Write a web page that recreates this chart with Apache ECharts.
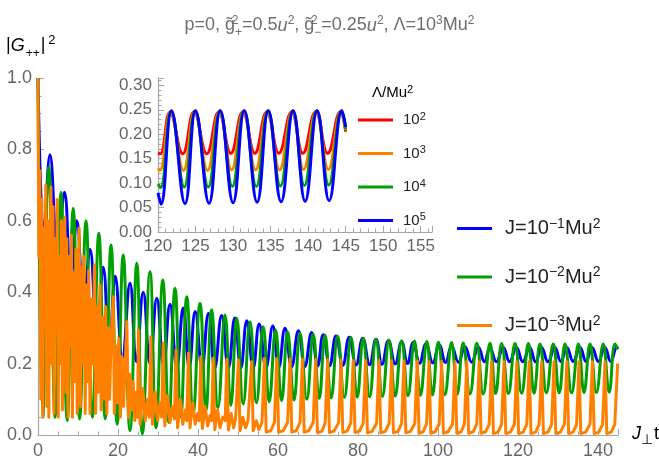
<!DOCTYPE html>
<html>
<head>
<meta charset="utf-8">
<script src="https://cdn.jsdelivr.net/npm/echarts@6/dist/echarts.min.js"></script>
<style>
  html, body { margin: 0; padding: 0; background: #fff; }
  #chart { width: 659px; height: 466px; }
</style>
</head>
<body>
<div id="chart"></div>
<script>
// |G++|^2 versus J_perp t for three couplings J (main panel)
const mainXTicks = [0, 20, 40, 60, 80, 100, 120, 140];
const mainYTicks = [0.0, 0.2, 0.4, 0.6, 0.8, 1.0];

// J = 10^-1 Mu^2 : alternating maxima / minima
const blueJ1 = [
  [0,1.0],[1.5,0.56],[3.0,0.785],[4.9,0.52],[6.6,0.68],[8.2,0.44],[9.7,0.60],[11.4,0.36],
  [13.0,0.52],[14.7,0.29],[16.3,0.47],[17.8,0.24],[19.3,0.445],[21.1,0.215],[23.0,0.425],
  [24.6,0.205],[26.3,0.40],[28.0,0.20],[29.7,0.383],[31.4,0.195],[33.0,0.366],[34.7,0.19],
  [36.3,0.356],[37.8,0.19],[39.3,0.346],[41.0,0.19],[42.6,0.34],[44.2,0.188],[45.9,0.335],
  [47.6,0.188],[49.2,0.328],[50.7,0.188],[52.2,0.32],[53.8,0.188],[55.3,0.311],[57.0,0.189],
  [58.7,0.305],[60.2,0.19],[61.75,0.299],[63.4,0.191],[65.1,0.292],[66.7,0.192],[68.4,0.287],
  [69.9,0.193],[71.3,0.281],[72.9,0.194],[74.5,0.277],[76.2,0.195],[77.8,0.274],[79.5,0.196],
  [81.2,0.271],[82.9,0.197],[84.5,0.268],[86.0,0.198],[87.6,0.264],[89.3,0.199],[90.9,0.261],
  [92.4,0.2],[93.8,0.259],[95.4,0.201],[97.0,0.255],[98.7,0.202],[100.3,0.252],[101.9,0.203],
  [103.4,0.249],[105.1,0.204],[106.75,0.247],[108.4,0.204],[110.1,0.246],[111.6,0.205],
  [113.0,0.244],[114.6,0.205],[116.3,0.245],[117.9,0.205],[119.6,0.245],[121.2,0.205],
  [122.9,0.245],[124.4,0.205],[125.9,0.245],[127.5,0.205],[129.2,0.245],[130.7,0.206],
  [132.2,0.245],[133.8,0.206],[135.5,0.245],[137.0,0.206],[138.5,0.245],[140.1,0.206],
  [141.7,0.245],[143.2,0.206],[144.7,0.245],[145,0.243]
];

// J = 10^-2 Mu^2
const greenJ2 = [
  [0,1.0],[1.2,0.05],[2.7,0.75],[4.3,0.05],[5.75,0.68],[7.3,0.04],[8.8,0.635],[10.4,0.045],
  [12.0,0.60],[13.6,0.05],[15.2,0.565],[16.8,0.045],[18.25,0.532],[19.8,0.03],[21.3,0.504],
  [23.0,0.012],[24.7,0.481],[26.1,0.003],[28.0,0.457],[29.5,0.02],[31.2,0.434],[32.7,0.035],
  [34.25,0.411],[35.7,0.05],[37.2,0.387],[38.8,0.062],[40.5,0.369],[42.0,0.07],[43.4,0.35],
  [45.0,0.077],[46.75,0.336],[48.2,0.083],[49.7,0.327],[51.3,0.087],[53.0,0.317],[54.6,0.09],
  [56.3,0.303],[57.8,0.093],[59.4,0.294],[60.9,0.096],[62.4,0.289],[64.0,0.098],[65.5,0.285],
  [67.2,0.1],[68.8,0.282],[70.3,0.102],[71.75,0.28],[73.3,0.104],[74.9,0.277],[76.6,0.105],
  [78.25,0.274],[79.8,0.106],[81.3,0.271],[82.9,0.107],[84.5,0.268],[86.1,0.108],[87.75,0.266],
  [89.3,0.109],[90.9,0.264],[92.5,0.11],[94.1,0.263],[95.6,0.111],[97.2,0.262],[98.6,0.112],
  [100.1,0.26],[101.7,0.113],[103.4,0.259],[104.8,0.114],[106.3,0.258],[108.0,0.115],
  [109.7,0.257],[111.3,0.115],[113.0,0.257],[114.4,0.116],[115.9,0.256],[117.6,0.116],
  [119.25,0.256],[120.9,0.117],[122.6,0.256],[124.0,0.117],[125.5,0.255],[127.1,0.118],
  [128.8,0.255],[130.3,0.118],[131.75,0.255],[133.4,0.118],[135.1,0.255],[136.5,0.119],
  [138.0,0.255],[139.6,0.119],[141.3,0.255],[142.8,0.12],[144.25,0.255],[145,0.24]
];

// J = 10^-3 Mu^2 : irregular start, then narrow resonance spikes
const orangeJ3 = [
  [0,1.0],[0.2,0.5],[0.45,0.74],[0.7,0.1],[0.95,0.66],[1.2,0.05],[1.45,0.58],[1.7,0.3],
  [1.95,0.7],[2.2,0.08],[2.45,0.6],[2.7,0.05],[2.95,0.5],[3.25,0.695],[3.5,0.2],[3.75,0.64],
  [4.0,0.06],[4.3,0.55],[4.55,0.3],[4.8,0.66],[5.05,0.05],[5.3,0.5],[5.6,0.2],[5.85,0.6],
  [6.1,0.07],[6.4,0.45],[6.7,0.61],[6.95,0.12],[7.2,0.55],[7.5,0.05],[7.8,0.5],[8.05,0.25],
  [8.35,0.56],[8.6,0.05],[8.9,0.45],[9.2,0.15],[9.5,0.52],[9.8,0.06],[10.05,0.4],[10.3,0.58],
  [10.6,0.08],[10.9,0.47],[11.2,0.2],[11.5,0.5],[11.8,0.06],[12.1,0.42],[12.4,0.15],[12.7,0.46],
  [13.0,0.06],[13.4,0.38],[13.8,0.2],[14.1,0.476],[14.4,0.06],[14.8,0.36],[15.1,0.12],
  [15.5,0.42],[15.8,0.07],[16.2,0.33],[16.5,0.1],[16.9,0.36],[17.2,0.06],[17.6,0.3],[17.9,0.1],
  [18.3,0.28],[18.8,0.387],[19.1,0.06],[19.5,0.25],[19.8,0.09],[20.2,0.27],[20.6,0.05],
  [21.0,0.22],[21.4,0.08],[21.8,0.2],[22.2,0.317],[22.6,0.05],[23.0,0.17],[23.4,0.07],
  [23.8,0.15],[24.2,0.04],[24.6,0.12],[24.9,0.05],
  [25.1,0.294],[25.5,0.03],[26.2,0.13],[26.8,0.04],[27.4,0.1],[27.8,0.05],
  [28.2,0.275],[28.6,0.03],[29.3,0.12],[29.9,0.04],[30.5,0.09],[30.9,0.05],
  [31.3,0.257],[31.7,0.025],[32.4,0.11],[33.0,0.035],[33.6,0.08],[34.1,0.045],
  [34.5,0.238],[34.9,0.02],[35.6,0.1],[36.2,0.03],[36.8,0.07],[37.2,0.04],
  [37.6,0.229],[38.0,0.02],[38.7,0.09],[39.3,0.03],[39.9,0.06],[40.3,0.04],
  [40.7,0.219],[41.1,0.018],[41.8,0.08],[42.4,0.025],[43.0,0.055],[43.4,0.04],
  [43.8,0.215],[44.2,0.015],[44.9,0.07],[45.5,0.02],[46.2,0.05],[46.8,0.04],
  [47.2,0.212],[47.6,0.014],[48.3,0.06],[48.9,0.02],[49.4,0.045],[49.7,0.04],
  [50.1,0.21],[50.5,0.012],[51.2,0.05],[51.9,0.02],[52.5,0.04],[52.9,0.04],
  [53.4,0.205],[53.8,0.012],[54.6,0.04],[55.2,0.015],[56.0,0.035],
  [56.6,0.215],[57.05,0.008],[58.2,0.012],[59.1,0.035],
  [59.7,0.214],[60.15,0.008],[61.3,0.012],[62.4,0.035],
  [63.0,0.213],[63.45,0.008],[64.6,0.012],[65.5,0.035],
  [66.1,0.212],[66.55,0.008],[67.7,0.012],[68.8,0.035],
  [69.4,0.211],[69.85,0.007],[71.0,0.011],[71.8,0.034],
  [72.4,0.21],[72.85,0.007],[74.0,0.011],[75.15,0.034],
  [75.75,0.21],[76.2,0.007],[77.3,0.011],[78.2,0.034],
  [78.8,0.209],[79.25,0.007],[80.4,0.011],[81.3,0.033],
  [81.9,0.209],[82.35,0.006],[83.5,0.01],[84.65,0.033],
  [85.25,0.208],[85.7,0.006],[86.8,0.01],[87.8,0.033],
  [88.4,0.208],[88.85,0.006],[90.0,0.01],[90.9,0.032],
  [91.5,0.207],[91.95,0.006],[93.1,0.01],[94.2,0.032],
  [94.8,0.207],[95.25,0.005],[96.3,0.009],[97.15,0.032],
  [97.75,0.206],[98.2,0.005],[99.3,0.009],[100.3,0.031],
  [100.9,0.206],[101.35,0.005],[102.5,0.009],[103.65,0.031],
  [104.25,0.206],[104.7,0.005],[105.8,0.009],[106.6,0.031],
  [107.2,0.206],[107.65,0.005],[108.8,0.009],[109.7,0.031],
  [110.3,0.205],[110.75,0.005],[111.9,0.009],[112.8,0.03],
  [113.4,0.205],[113.85,0.004],[115.0,0.008],[115.9,0.03],
  [116.5,0.205],[116.95,0.004],[118.1,0.008],[119.1,0.03],
  [119.7,0.205],[120.15,0.004],[121.3,0.008],[122.2,0.03],
  [122.8,0.205],[123.25,0.004],[124.4,0.008],[125.3,0.03],
  [125.9,0.205],[126.35,0.004],[127.5,0.008],[128.4,0.03],
  [129.0,0.205],[129.45,0.004],[130.6,0.008],[131.6,0.03],
  [132.2,0.205],[132.65,0.004],[133.8,0.008],[134.65,0.03],
  [135.25,0.205],[135.7,0.004],[136.9,0.008],[138.0,0.03],
  [138.6,0.205],[139.05,0.004],[140.2,0.008],[141.15,0.03],
  [141.75,0.205],[142.2,0.004],[143.3,0.008],[144.2,0.03],
  [144.9,0.2]
];

// Inset: late-time window for four cutoffs Lambda
const insetXTicks = [120, 125, 130, 135, 140, 145, 150, 155];
const insetYTicks = [0.00, 0.05, 0.10, 0.15, 0.20, 0.25, 0.30];
const lam2 = [
  [120,0.161],[120.3,0.16],[121.6,0.245],[123.3,0.16],[124.8,0.246],[126.5,0.16],[128.1,0.246],
  [129.7,0.161],[131.3,0.246],[132.9,0.161],[134.5,0.246],[136.1,0.161],[137.8,0.246],
  [139.3,0.161],[141.0,0.246],[142.6,0.161],[144.3,0.246],[145,0.205]
];
const lam3 = [
  [120,0.13],[120.25,0.126],[121.7,0.246],[123.4,0.126],[124.9,0.247],[126.6,0.126],[128.2,0.247],
  [129.8,0.127],[131.4,0.247],[133.0,0.127],[134.6,0.247],[136.2,0.127],[137.9,0.247],
  [139.4,0.128],[141.1,0.247],[142.7,0.128],[144.4,0.247],[145,0.208]
];
const lam4 = [
  [120,0.098],[120.35,0.091],[121.75,0.247],[123.5,0.092],[124.95,0.248],[126.7,0.092],
  [128.25,0.248],[129.9,0.093],[131.45,0.248],[133.1,0.093],[134.65,0.248],[136.3,0.094],
  [137.95,0.248],[139.5,0.095],[141.15,0.248],[142.75,0.096],[144.45,0.248],[145,0.21]
];
const lam5 = [
  [120,0.08],[120.4,0.057],[121.8,0.248],[123.6,0.058],[125.0,0.248],[126.8,0.059],[128.3,0.248],
  [130.0,0.06],[131.5,0.248],[133.2,0.061],[134.7,0.248],[136.4,0.062],[138.0,0.248],
  [139.6,0.063],[141.2,0.248],[142.8,0.064],[144.5,0.248],[145,0.215]
];

const mainNames = ['J1', 'J2', 'J3'];
const mainExponents = ['\u22121', '\u22122', '\u22123'];
const insetNames = ['L2', 'L3', 'L4', 'L5'];
const insetExponents = ['2', '3', '4', '5'];

const FONT = '"Liberation Sans", Arial, sans-serif';
const AXIS_GRAY = '#a6a6a6';
const LABEL_GRAY = '#666666';

function axisCommon(grid, min, max, interval, minorSplit, fontSize, margin, fmt) {
  return {
    type: 'value', gridIndex: grid, min: min, max: max, interval: interval,
    axisLine: { show: true, onZero: false, lineStyle: { color: AXIS_GRAY, width: 1.2 } },
    axisTick: { show: true, inside: true, length: 6, lineStyle: { color: AXIS_GRAY, width: 1 } },
    minorTick: { show: true, splitNumber: minorSplit, length: 3.5, lineStyle: { color: AXIS_GRAY, width: 1 } },
    axisLabel: { color: LABEL_GRAY, fontSize: fontSize, fontFamily: FONT, margin: margin, formatter: fmt },
    splitLine: { show: false }
  };
}

function lineSeries(name, data, color, xi, yi, smooth, width) {
  return {
    name: name, type: 'line', data: data, xAxisIndex: xi, yAxisIndex: yi,
    symbol: 'none', showSymbol: false, smooth: smooth, animation: false,
    lineStyle: { color: color, width: width, join: 'round' },
    itemStyle: { color: color }
  };
}

const supStyle = (size, lift) => ({ fontSize: size, fontFamily: FONT, color: '#222', verticalAlign: 'bottom', padding: [0, 0, lift, 0] });
const TITLE_GRAY = '#6e6e6e';
const titleRich = (size, extra) => Object.assign({ fontSize: size, fontFamily: FONT, color: TITLE_GRAY, fontWeight: 'normal' }, extra || {});

const chart = echarts.init(document.getElementById('chart'), null, { renderer: 'canvas' });

chart.setOption({
  animation: false,
  backgroundColor: '#ffffff',
  title: {
    left: 'center', top: 10,
    text: '{t|p=0, g\u0303}{sz|2}{sb|+}{t|=0.5}{it|u}{sp|2}{t|, g\u0303}{sz|2}{sb|\u2212}{t|=0.25}{it|u}{sp|2}{t|, \u039b=10}{sp|3}{t|Mu}{sp|2}',
    textStyle: {
      fontWeight: 'normal',
      rich: {
        t: titleRich(18),
        it: titleRich(18, { fontStyle: 'italic' }),
        sp: titleRich(12, { verticalAlign: 'bottom', padding: [0, 0, 9, 0] }),
        sz: titleRich(12, { verticalAlign: 'bottom', padding: [0, 0, 9, 0], width: 0 }),
        sb: titleRich(12, { verticalAlign: 'bottom', padding: [0, 0, -3, 0] })
      }
    }
  },
  grid: [
    { left: 38, top: 78, width: 580, height: 357 },
    { left: 158, top: 78, width: 274, height: 154 }
  ],
  xAxis: [
    axisCommon(0, mainXTicks[0], 145, 20, 4, 18, 7, v => String(v)),
    axisCommon(1, insetXTicks[0], 156.5, 5, 5, 17, 6, v => String(v))
  ],
  yAxis: [
    axisCommon(0, mainYTicks[0], mainYTicks[mainYTicks.length - 1], 0.2, 4, 18, 6, v => v.toFixed(1)),
    axisCommon(1, insetYTicks[0], 0.315, 0.05, 5, 17, 6, v => v.toFixed(2))
  ],
  legend: [
    {
      data: mainNames, orient: 'vertical', left: 457, top: 217, padding: 0,
      icon: 'rect', itemWidth: 35, itemHeight: 3, itemGap: 27,
      formatter: n => '{f|J=10}{s|' + mainExponents[mainNames.indexOf(n)] + '}{a|Mu}{s|2}',
      textStyle: { rich: {
        f: { fontSize: 20, fontFamily: FONT, color: '#222', padding: [0, 0, 0, 8] },
        a: { fontSize: 20, fontFamily: FONT, color: '#222' },
        s: supStyle(14, 9)
      } }
    },
    {
      data: insetNames, orient: 'vertical', left: 358, top: 111, padding: 0,
      icon: 'rect', itemWidth: 35, itemHeight: 3, itemGap: 17,
      formatter: n => '{a|10}{s|' + insetExponents[insetNames.indexOf(n)] + '}',
      textStyle: { rich: { a: { fontSize: 15, fontFamily: FONT, color: '#222', padding: [0, 0, 0, 5] }, s: supStyle(11, 7) } }
    }
  ],
  graphic: [
    {
      type: 'text', left: 6, top: 34,
      style: {
        text: '{t||}{it|G}{sb|++}{t||}{sp|2}',
        rich: {
          t: { fontSize: 18, fontFamily: FONT, color: '#666' },
          it: { fontSize: 18, fontFamily: FONT, color: '#666', fontStyle: 'italic' },
          sb: { fontSize: 12, fontFamily: FONT, color: '#666', verticalAlign: 'bottom', padding: [0, 1, -3, 1] },
          sp: { fontSize: 13, fontFamily: FONT, color: '#666', verticalAlign: 'bottom', padding: [0, 0, 10, 3] }
        }
      }
    },
    {
      type: 'text', left: 632, top: 425,
      style: {
        text: '{it|J}{sb|\u22a5}{t|t}',
        rich: {
          t: { fontSize: 18, fontFamily: FONT, color: '#666' },
          it: { fontSize: 18, fontFamily: FONT, color: '#666', fontStyle: 'italic' },
          sb: { fontSize: 14, fontFamily: FONT, color: '#666', verticalAlign: 'bottom', padding: [0, 1, -4, 0] }
        }
      }
    },
    {
      type: 'text', left: 372, top: 84,
      style: {
        text: '{t|\u039b/Mu}{sp|2}',
        rich: {
          t: { fontSize: 15, fontFamily: FONT, color: '#222' },
          sp: { fontSize: 11, fontFamily: FONT, color: '#222', verticalAlign: 'bottom', padding: [0, 0, 7, 0] }
        }
      }
    }
  ],
  series: [
    lineSeries('J1', blueJ1, '#0000ff', 0, 0, 0.45, 3),
    lineSeries('J2', greenJ2, '#00a000', 0, 0, 0.45, 3),
    lineSeries('J3', orangeJ3, '#ff8000', 0, 0, false, 3),
    lineSeries('L2', lam2, '#ff0000', 1, 1, 0.45, 3),
    lineSeries('L3', lam3, '#ff8000', 1, 1, 0.45, 3),
    lineSeries('L4', lam4, '#00a000', 1, 1, 0.45, 3),
    lineSeries('L5', lam5, '#0000ff', 1, 1, 0.45, 3)
  ]
});
</script>
</body>
</html>
